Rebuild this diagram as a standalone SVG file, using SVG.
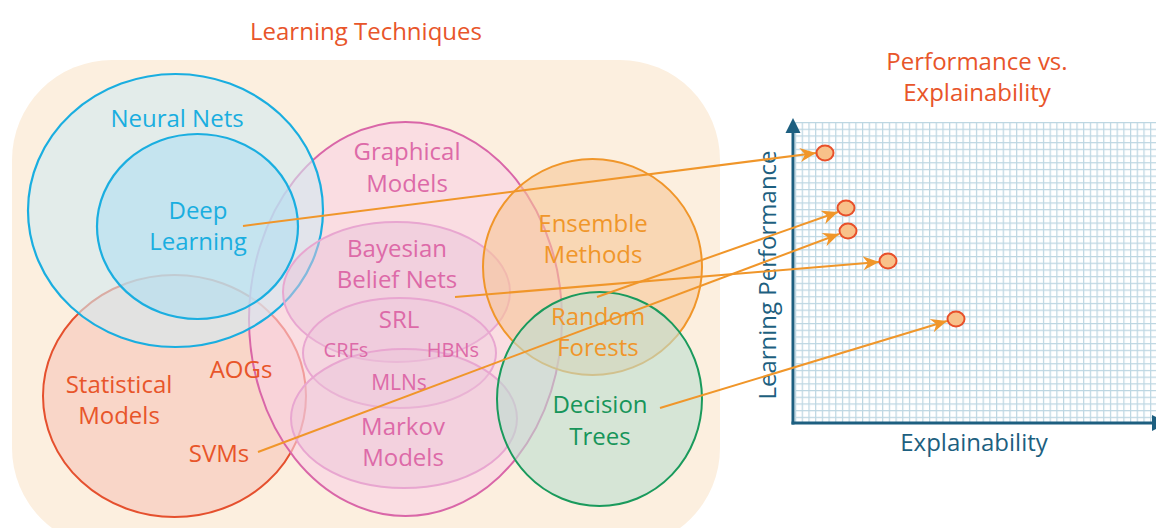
<svg xmlns="http://www.w3.org/2000/svg" width="1156" height="528" viewBox="0 0 1156 528">
  <defs>
    <style>
      text { font-family: "Open Sans", "Noto Sans", "DejaVu Sans", sans-serif; text-anchor: middle; }
      .t24 { font-size: 24px; }
      .t20 { font-size: 20px; }
      .t21 { font-size: 21px; }
      .red { fill: #e8552a; }
      .blue { fill: #1aaee0; }
      .pink { fill: #dd6aa8; }
      .orange { fill: #f0962a; }
      .green { fill: #17955a; }
      .navy { fill: #1d5f80; }
      .conn { fill: none; stroke: #f0962a; stroke-width: 2; marker-end: url(#arrow); }
      .dot { fill: #f8c18a; stroke: #e8502a; stroke-width: 2; }
    </style>
    <marker id="arrow" viewBox="-17 -8 18 16" refX="0" refY="0" markerWidth="18" markerHeight="16" markerUnits="userSpaceOnUse" orient="auto">
      <path d="M0,0 L-16,-7 L-11,0 L-16,7 Z" fill="#f0962a"/>
    </marker>
    <pattern id="grid" x="795" y="122" width="6.7" height="6.7" patternUnits="userSpaceOnUse">
      <rect width="6.7" height="6.7" fill="#ffffff"/>
      <path d="M0,0 H6.7 M0,0 V6.7" stroke="#bcd6e2" stroke-width="2.4" fill="none"/>
    </pattern>
  </defs>

  <!-- panel background -->
  <rect id="panel" x="12" y="60" width="708" height="488" rx="100" ry="100" fill="#fcefdf"/>

  <text class="t24 red" x="366" y="40">Learning Techniques</text>

  <!-- technique regions -->
  <g id="statistical-models">
    <ellipse cx="174.5" cy="396" rx="131.5" ry="121" fill="#f7c5b9" fill-opacity="0.6" stroke="#e5502e" stroke-width="2"/>
  </g>
  <g id="graphical-models">
    <ellipse cx="405.5" cy="319" rx="156.5" ry="197" fill="#f9d1e4" fill-opacity="0.6" stroke="#d966a8" stroke-width="2"/>
  </g>
  <g id="neural-nets">
    <ellipse cx="175.5" cy="210.5" rx="147.5" ry="136.5" fill="#d2eaf1" fill-opacity="0.6" stroke="#1aaee0" stroke-width="2.2"/>
  </g>
  <g id="deep-learning">
    <ellipse cx="197.5" cy="226.5" rx="100.5" ry="92.5" fill="#b1e0f1" fill-opacity="0.6" stroke="#1aaee0" stroke-width="2.2"/>
  </g>
  <g id="bayesian-belief-nets">
    <ellipse cx="396.5" cy="292" rx="113.5" ry="70" fill="#eac3da" fill-opacity="0.5" stroke="#e8a6d0" stroke-width="2"/>
  </g>
  <g id="srl">
    <ellipse cx="399.5" cy="353" rx="96.5" ry="55" fill="#eac3da" fill-opacity="0.3" stroke="#e8a6d0" stroke-width="2"/>
  </g>
  <g id="markov-models">
    <ellipse cx="404" cy="418.5" rx="113" ry="69.5" fill="#eac3da" fill-opacity="0.45" stroke="#e8a6d0" stroke-width="2"/>
  </g>
  <g id="ensemble-methods">
    <ellipse cx="592.5" cy="267" rx="109.5" ry="108" fill="#f7c797" fill-opacity="0.6" stroke="#f0962a" stroke-width="2"/>
  </g>
  <g id="decision-trees">
    <ellipse cx="599.5" cy="399" rx="102.5" ry="107" fill="#bdded0" fill-opacity="0.6" stroke="#1a9a5c" stroke-width="2"/>
  </g>

  <!-- region labels -->
  <g id="labels">
    <text class="t24 blue" x="177" y="127">Neural Nets</text>
    <text class="t24 blue" x="198" y="219">Deep</text>
    <text class="t24 blue" x="198" y="250">Learning</text>
    <text class="t24 pink" x="407" y="160">Graphical</text>
    <text class="t24 pink" x="407" y="192">Models</text>
    <text class="t24 pink" x="397" y="257">Bayesian</text>
    <text class="t24 pink" x="397" y="288">Belief Nets</text>
    <text class="t24 pink" x="399" y="328">SRL</text>
    <text class="t20 pink" x="346" y="357">CRFs</text>
    <text class="t20 pink" x="453" y="357">HBNs</text>
    <text class="t21 pink" x="399" y="390">MLNs</text>
    <text class="t24 pink" x="403" y="435">Markov</text>
    <text class="t24 pink" x="403" y="466">Models</text>
    <text class="t24 orange" x="593" y="232">Ensemble</text>
    <text class="t24 orange" x="593" y="263">Methods</text>
    <text class="t24 orange" x="598" y="325">Random</text>
    <text class="t24 orange" x="598" y="356">Forests</text>
    <text class="t24 green" x="600" y="413">Decision</text>
    <text class="t24 green" x="600" y="445">Trees</text>
    <text class="t24 red" x="119" y="393">Statistical</text>
    <text class="t24 red" x="119" y="424">Models</text>
    <text class="t24 red" x="241" y="378">AOGs</text>
    <text class="t24 red" x="219" y="462">SVMs</text>
  </g>

  <!-- performance vs. explainability chart -->
  <g id="chart">
    <text class="t24 red" x="977" y="70">Performance vs.</text>
    <text class="t24 red" x="977" y="101">Explainability</text>
    <rect x="795" y="122" width="361" height="300" fill="url(#grid)"/>
    <line x1="793" y1="130" x2="793" y2="424.5" stroke="#1d5f80" stroke-width="3"/>
    <line x1="791.5" y1="423" x2="1153" y2="423" stroke="#1d5f80" stroke-width="3"/>
    <polygon points="793,118 785.5,133 800.5,133" fill="#1d5f80"/>
    <polygon points="1152,415 1152,431 1168,423" fill="#1d5f80"/>
    <text class="t24 navy" x="974" y="451">Explainability</text>
    <text class="t24 navy" x="776" y="275" transform="rotate(-90 776 275)">Learning Performance</text>
  </g>

  <!-- connectors from techniques to chart points -->
  <g id="connectors">
    <line class="conn" x1="243" y1="226" x2="816" y2="153"/>
    <line class="conn" x1="455" y1="297" x2="879" y2="262"/>
    <line class="conn" x1="597" y1="297" x2="838" y2="212"/>
    <line class="conn" x1="258" y1="452" x2="839" y2="234"/>
    <line class="conn" x1="660" y1="408" x2="947" y2="321"/>
  </g>

  <!-- chart points -->
  <g id="points">
    <ellipse class="dot" cx="825" cy="153" rx="8.5" ry="7.5"/>
    <ellipse class="dot" cx="846" cy="208" rx="8.5" ry="7.5"/>
    <ellipse class="dot" cx="848" cy="231" rx="8.5" ry="7.5"/>
    <ellipse class="dot" cx="888" cy="261" rx="8.5" ry="7.5"/>
    <ellipse class="dot" cx="956" cy="319" rx="8.5" ry="7.5"/>
  </g>
</svg>
